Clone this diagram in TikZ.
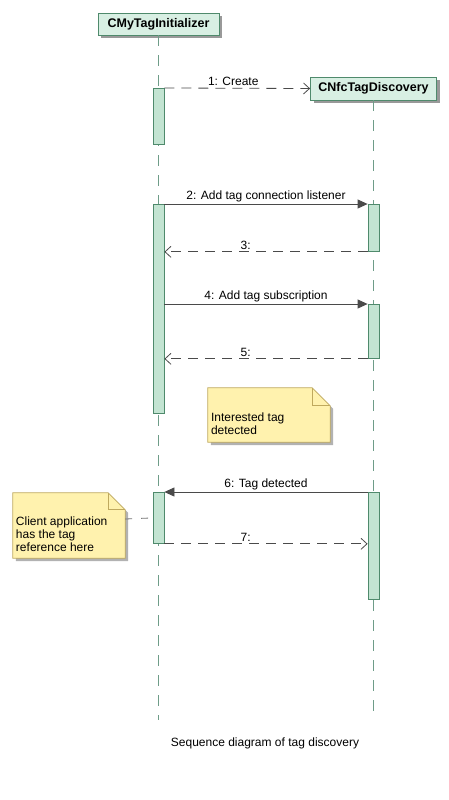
\documentclass[tikz,border=0pt]{standalone}
\usepackage{fontspec}
\setmainfont{Liberation Sans}
\usetikzlibrary{arrows.meta,shadows}

\definecolor{headfill}{HTML}{D8EFE3}
\definecolor{actfill}{HTML}{C3E4D2}
\definecolor{umlgreen}{HTML}{4F8A6C}
\definecolor{lifegreen}{HTML}{6E9C88}
\definecolor{notefill}{HTML}{FFF2AE}
\definecolor{noteline}{HTML}{BFA95E}
\definecolor{msgline}{HTML}{4A4A4A}

\tikzset{
  head/.style={draw=umlgreen, fill=headfill, line width=0.8pt, inner sep=0pt,
    font=\fontsize{12.5}{15}\selectfont\bfseries,
    drop shadow={shadow xshift=3pt, shadow yshift=-3pt, fill=black!40, opacity=1}},
  act/.style={draw=umlgreen, fill=actfill, line width=0.8pt, minimum width=11pt, inner sep=0pt, anchor=north},
  lifeline/.style={draw=lifegreen, line width=1pt, dash pattern=on 11pt off 9pt},
  call/.style={draw=msgline, line width=0.8pt, -{Triangle[length=10pt,width=9pt]}},
  reply/.style={draw=msgline, line width=0.8pt, dash pattern=on 10pt off 7pt, -{Straight Barb[length=6pt,width=11pt]}},
  lbl/.style={font=\fontsize{12}{14}\selectfont, inner sep=2pt},
  notebody/.style={inner sep=0pt},
  notetext/.style={font=\fontsize{12}{13}\selectfont, align=left, inner sep=0pt, anchor=north west},
  notelink/.style={draw=black!55, line width=0.8pt, dash pattern=on 7pt off 9pt}
}

\begin{document}
\begin{tikzpicture}[x=1pt,y=-1pt]
    \useasboundingbox (0,0) rectangle (448,800);

    % Objects
    \node[head, minimum width=121pt, minimum height=22pt] (init) at (158.5,24) {CMyTagInitializer};
    \node[head, minimum width=126pt, minimum height=23pt] (disc) at (373.5,88.5) {CNfcTagDiscovery};

    % Lifelines
    \draw[lifeline] (init.south) -- (init.south |- 0,720);
    \draw[lifeline] (disc.south) -- (disc.south |- 0,720);

    % Activations
    \node[act, minimum height=56pt] (a1) at (158.5,88) {};
    \node[act, minimum height=209pt] (a2) at (158.5,204) {};
    \node[act, minimum height=51pt] (a3) at (158.5,492) {};
    \node[act, minimum height=47pt] (b1) at (373.5,204) {};
    \node[act, minimum height=54pt] (b2) at (373.5,304) {};
    \node[act, minimum height=107pt] (b3) at (373.5,492) {};

    % Messages
    \draw[reply] (a1.north east) -- (disc.west) node[lbl, midway, above, xshift=-4pt] {1: Create};
    \draw[call] (a2.north east) -- (b1.north west) node[lbl, midway, above] {2: Add tag connection listener};
    \draw[reply] (b1.south west) -- (b1.south west -| a2.east) node[lbl, pos=0.6, above] {3:};
    \draw[call] (a2.east |- b2.north) -- (b2.north west) node[lbl, midway, above] {4: Add tag subscription};
    \draw[reply] (b2.south west) -- (b2.south west -| a2.east) node[lbl, pos=0.6, above] {5:};
    \draw[call] (b3.north west) -- (a3.north east) node[lbl, midway, above] {6: Tag detected};
    \draw[reply] (a3.south east) -- (a3.south east -| b3.west) node[lbl, pos=0.4, above] {7:};

    %Notes
    %interested tag
    \node[notebody, minimum width=122pt, minimum height=54pt] (n1) at (269,415) {};
    \fill[black!30, transform canvas={xshift=3pt,yshift=-3pt}] (n1.north west) -- ([xshift=-18pt]n1.north east) -- ([yshift=-18pt]n1.north east) -- (n1.south east) -- (n1.south west) -- cycle;
    \filldraw[fill=notefill, draw=noteline, line width=0.8pt] (n1.north west) -- ([xshift=-18pt]n1.north east) -- ([yshift=-18pt]n1.north east) -- (n1.south east) -- (n1.south west) -- cycle;
    \draw[noteline, line width=0.8pt] ([xshift=-18pt]n1.north east) -- ([xshift=-18pt,yshift=-18pt]n1.north east) -- ([yshift=-18pt]n1.north east);
    \node[notetext] (t1) at ([xshift=3pt,yshift=-24.5pt]n1.north west) {Interested tag\\detected};
    %client application
    \node[notebody, minimum width=112pt, minimum height=65pt] (n2) at (69,525.5) {};
    \fill[black!30, transform canvas={xshift=3pt,yshift=-3pt}] (n2.north west) -- ([xshift=-17pt]n2.north east) -- ([yshift=-17pt]n2.north east) -- (n2.south east) -- (n2.south west) -- cycle;
    \filldraw[fill=notefill, draw=noteline, line width=0.8pt] (n2.north west) -- ([xshift=-17pt]n2.north east) -- ([yshift=-17pt]n2.north east) -- (n2.south east) -- (n2.south west) -- cycle;
    \draw[noteline, line width=0.8pt] ([xshift=-17pt]n2.north east) -- ([xshift=-17pt,yshift=-17pt]n2.north east) -- ([yshift=-17pt]n2.north east);
    \node[notetext] (t2) at ([xshift=3pt,yshift=-23.5pt]n2.north west) {Client application\\has the tag\\reference here};
    \draw[notelink] ([yshift=6.5pt]n2.east) -- (a3.west);

    % Caption
    \node[lbl] (cap) at (265,743) {Sequence diagram of tag discovery};
\end{tikzpicture}
\end{document}
